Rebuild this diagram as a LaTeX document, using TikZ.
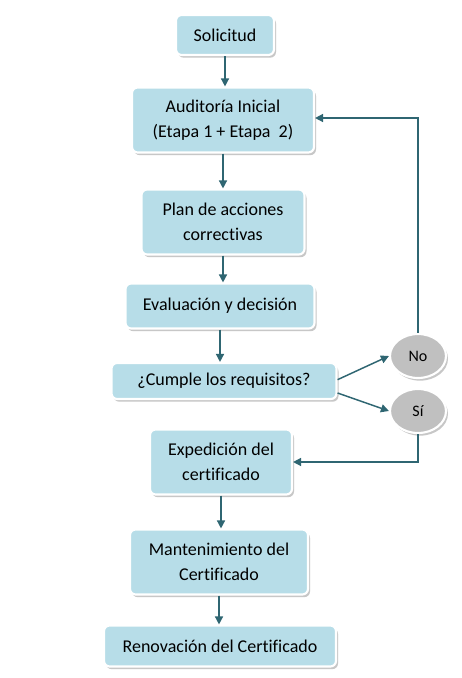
\documentclass[tikz,border=0pt]{standalone}
\usepackage{fontspec}
\setmainfont{Carlito}[Ligatures=CommonOff]
\usetikzlibrary{shapes.geometric, shadows, arrows.meta}
\definecolor{boxblue}{HTML}{B7DDE8}
\definecolor{linkteal}{HTML}{2F6672}
\definecolor{ovalgrey}{HTML}{C0C0C0}

\begin{document}
\begin{tikzpicture}[x=0.75pt, y=-0.75pt,
    stage/.style={rectangle, draw=white, line width=1.6pt, rounded corners=1.5mm,
        fill=boxblue, align=center, text=black, font=\fontsize{13.5}{18.5}\selectfont,
        drop shadow={shadow xshift=1.5pt, shadow yshift=-2pt, fill=black!40, opacity=0.55}},
    answer/.style={ellipse, draw=white, line width=1.6pt, fill=ovalgrey, text=black,
        minimum width=42pt, minimum height=33pt, font=\fontsize{12}{14}\selectfont,
        drop shadow={shadow xshift=1.5pt, shadow yshift=-2pt, fill=black!40, opacity=0.55}},
    link/.style={draw=linkteal, line width=1.1pt, -{Triangle[length=6pt, width=6pt]}}
]
\fill[white] (0,0) rectangle (461,678);
\useasboundingbox (0,0) rectangle (461,678);

% main line
\node (Sol) [stage, minimum width=73.5pt, minimum height=30pt] at (225,35) {Solicitud};
\node (Aud) [stage, minimum width=136.5pt, minimum height=48.75pt] at (223,120)
    {Auditoría Inicial\\(Etapa 1 + Etapa\ \ 2)};
\node (Plan) [stage, minimum width=122.25pt, minimum height=48.75pt] at (223,222)
    {Plan de acciones\\correctivas};
\node (Eval) [stage, minimum width=141.75pt, minimum height=33.75pt] at (220,306)
    {Evaluación y decisión};
\node (Cum) [stage, minimum width=168.75pt, minimum height=27pt] at (224,381)
    {¿Cumple los requisitos?};
\node (Exp) [stage, minimum width=106.5pt, minimum height=48.75pt] at (221,462)
    {Expedición del\\certificado};
\node (Man) [stage, minimum width=133.5pt, minimum height=48.75pt] at (219,562)
    {Mantenimiento del\\Certificado};
\node (Ren) [stage, minimum width=174pt, minimum height=30.75pt] at (220,646)
    {Renovación del Certificado};

% answers
\node (No) [answer] at (418,356) {No};
\node (Si) [answer] at (418,411) {Sí};

\draw [link] (Sol.south) -- (Sol.south |- Aud.north);
\draw [link] (Aud.south) -- (Aud.south |- Plan.north);
\draw [link] (Plan.south) -- (Plan.south |- Eval.north);
\draw [link] (Eval.south) -- (Eval.south |- Cum.north);
\draw [link] (Exp.south) -- (Exp.south |- Man.north);
\draw [link] (Man.south) -- (Man.south |- Ren.north);

\draw [link] ([yshift=1pt]Cum.east) -- (No.west);
\draw [link] ([yshift=-9pt]Cum.east) -- (Si.west);
\draw [link] (No.north) |- ([yshift=1.5pt]Aud.east);
\draw [link] (Si.south) |- (Exp.east);
\end{tikzpicture}
\end{document}
